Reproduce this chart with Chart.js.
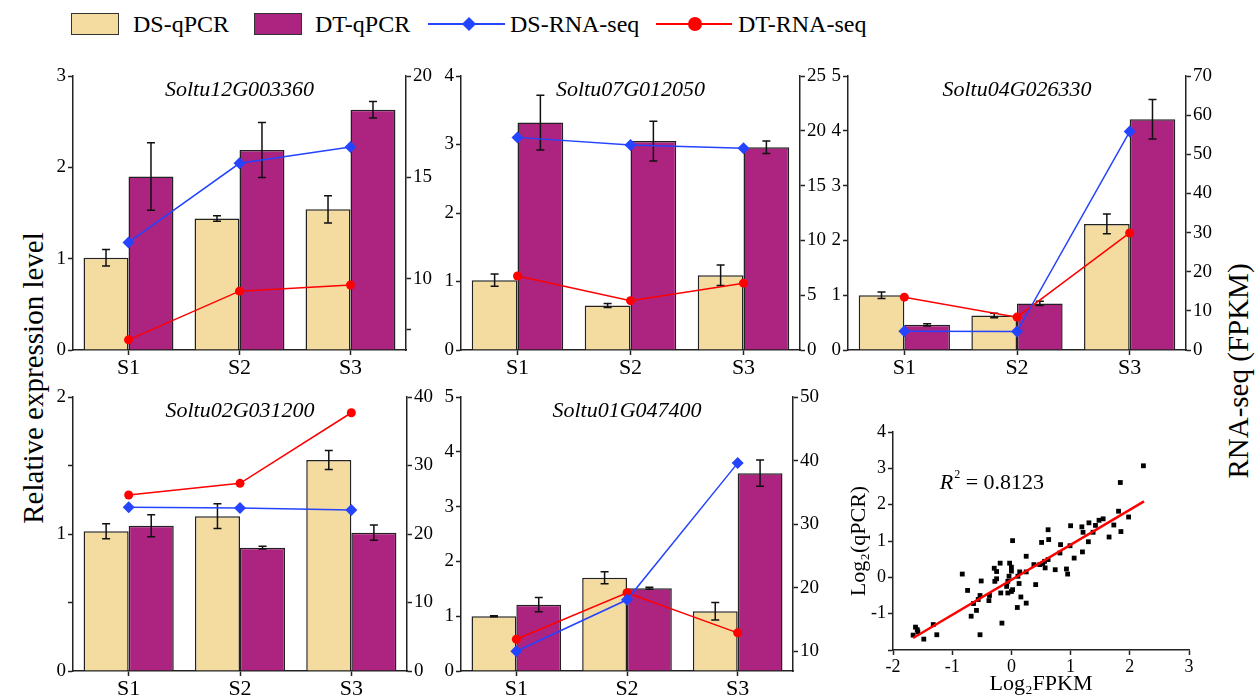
<!DOCTYPE html>
<html>
<head>
<meta charset="utf-8">
<script src="https://cdn.jsdelivr.net/npm/chart.js@4.4.1/dist/chart.umd.min.js"></script>
<style>
    body { margin: 0; width: 1260px; height: 697px; overflow: hidden; background: #fff; position: relative; font-family: "Liberation Serif", serif; color: #000; }
    canvas { position: absolute; }
    .abs { position: absolute; }
    .box { position: absolute; box-sizing: border-box; width: 48px; height: 22px; top: 13px; border: 1.5px solid #333; }
    .lgtext { position: absolute; top: 11px; font-size: 24px; line-height: 26px; white-space: nowrap; }
    .vtitle { position: absolute; font-size: 29px; white-space: nowrap; transform: translate(-50%, -50%) rotate(-90deg); }
</style>
</head>
<body>
<!-- legend -->
<div class="box" style="left:71px; background:#F4DBA0"></div>
<div class="lgtext" style="left:133px">DS-qPCR</div>
<div class="box" style="left:254px; background:#AC2380"></div>
<div class="lgtext" style="left:315px">DT-qPCR</div>
<div class="abs" style="left:428px; top:23px; width:77px; height:2px; background:#2444FF"></div>
<div class="abs" style="left:464px; top:19px; width:10px; height:10px; background:#2444FF; transform:rotate(45deg)"></div>
<div class="lgtext" style="left:510px">DS-RNA-seq</div>
<div class="abs" style="left:656px; top:23px; width:76px; height:2px; background:#FF0000"></div>
<div class="abs" style="left:688px; top:17px; width:14px; height:14px; border-radius:50%; background:#FF0000"></div>
<div class="lgtext" style="left:738px">DT-RNA-seq</div>

<div class="vtitle" style="left:33px; top:378px">Relative expression level</div>
<div class="vtitle" style="left:1238px; top:371px">RNA-seq (FPKM)</div>

<canvas id="p0"></canvas>
<canvas id="p1"></canvas>
<canvas id="p2"></canvas>
<canvas id="p3"></canvas>
<canvas id="p4"></canvas>
<canvas id="scatter"></canvas>

<script>
const stages = ["S1", "S2", "S3"];
const genes = ["Soltu12G003360", "Soltu07G012050", "Soltu04G026330", "Soltu02G031200", "Soltu01G047400"];

// relative expression (left axis), one row per gene
const dsQpcr    = [[1.01, 1.44, 1.54], [1.02, 0.65, 1.09], [1.00, 0.63, 2.30], [1.02, 1.13, 1.54], [1.00, 1.70, 1.09]];
const dsQpcrErr = [[0.09, 0.03, 0.15], [0.09, 0.03, 0.15], [0.06, 0.04, 0.18], [0.055, 0.09, 0.07], [0.01, 0.11, 0.16]];
const dtQpcr    = [[1.90, 2.19, 2.63], [3.32, 3.05, 2.96], [0.46, 0.85, 4.21], [1.06, 0.90, 1.01], [1.21, 1.51, 3.61]];
const dtQpcrErr = [[0.37, 0.30, 0.09], [0.40, 0.29, 0.09], [0.02, 0.04, 0.36], [0.08, 0.01, 0.055], [0.13, 0.02, 0.24]];

// FPKM (right axis)
const dsRna = [[11.8, 15.7, 16.5], [19.4, 18.7, 18.4], [4.8, 4.7, 55.8], [23.9, 23.8, 23.5], [10.0, 18.1, 39.6]];
const dtRna = [[7.0, 9.4, 9.7], [6.75, 4.5, 6.1], [13.5, 8.4, 29.9], [25.7, 27.4, 37.7], [11.9, 19.2, 12.9]];

// axis ranges and tick values
const leftMin   = [0, 0, 0, 0, 0];
const leftMax   = [3, 4, 5, 2, 5];
const leftMajor = [[0, 1, 2, 3], [0, 1, 2, 3, 4], [0, 1, 2, 3, 4, 5], [0, 1, 2], [0, 1, 2, 3, 4, 5]];
const leftMinor = [[], [], [], [0.5, 1.5], []];
const rightMin   = [6.5, 0, 0, 0, 6.9];
const rightMax   = [20, 25, 70, 40, 50];
const rightMajor = [[10, 15, 20], [0, 5, 10, 15, 20, 25], [0, 10, 20, 30, 40, 50, 60, 70], [0, 10, 20, 30, 40], [10, 20, 30, 40, 50]];
const rightMinor = [[7.5], [], [], [], []];

// log2 scatter
const scatterX = [2.23, 1.84, 1.81, 1.98, 1.85, 1.73, 1.65, 1.55, 1.48, 1.42,
    1.38, 1.31, 1.30, 1.21, 1.19, 1.20, 1.06, 1.00, 0.99, 0.83,
    0.82, 0.93, 0.95, 0.74, 0.62, 0.63, 0.51, 0.62, 0.56, 0.53,
    0.57, 0.48, 0.38, 0.41, 0.25, 0.25, 0.14, 0.11, 0.13, 0.16,
    0.25, 0.10, 0.02, 0.00, -0.03, 0.00, -0.04, -0.06, -0.08, 0.00,
    -0.06, 0.02, -0.16, -0.18, -0.19, -0.25, -0.29, -0.25, -0.28, -0.38,
    -0.37, -0.51, -0.53, -0.56, -0.53, -0.59, -0.64, -0.68, -0.74, -0.83,
    -1.26, -1.32, -1.48, -1.59, -1.62, -1.66, -1.58];
const scatterY = [3.07, 2.61, 1.82, 1.66, 1.26, 1.44, 1.11, 1.61, 1.57, 1.43,
    1.24, 1.50, 0.98, 1.24, 1.39, 0.70, 0.53, 1.42, 0.87, 0.90,
    0.67, 0.23, 0.09, 0.21, 1.31, 1.04, 0.96, 0.49, 0.44, 0.38,
    0.26, 0.35, 0.35, -0.20, 0.58, 0.15, 0.15, 0.03, -0.17, -0.54,
    -0.71, -0.83, 1.01, 0.28, 0.39, 0.17, 0.03, -0.11, -0.25, -0.39,
    -0.43, -0.34, -1.26, -0.43, 0.39, -0.04, 0.25, 0.16, -0.11, -0.64,
    -0.50, -0.10, -0.50, -0.61, -1.58, -0.91, -0.72, -1.07, -0.36, 0.09,
    -1.58, -1.30, -1.70, -1.44, -1.37, -1.59, -1.50];
const fitX = [-1.66, 2.24];
const fitY = [-1.67, 2.09];
const rSquared = "0.8123";

// plot areas on the page: left, top, right, bottom
const panelAreas = [[73, 76, 406, 350], [461, 76, 800, 350], [848, 76, 1186, 350], [73, 397, 407, 671], [461, 397, 793, 671]];
const scatterArea = [893, 432, 1189, 650];

const DS_BAR = "#F4DBA0", DT_BAR = "#AC2380", DS_LINE = "#2444FF", DT_LINE = "#FF0000";
const INK = "#222";

Chart.defaults.font.family = "'Liberation Serif', 'Times New Roman', serif";
Chart.defaults.color = "#000";

const errorBars = {
    id: "errorBars",
    afterDatasetDraw(chart, args) {
        const ds = chart.data.datasets[args.index];
        if (!ds.errors) return;
        const ctx = chart.ctx;
        const y = chart.scales.y;
        ctx.save();
        ctx.strokeStyle = "#111";
        ctx.lineWidth = 1.5;
        args.meta.data.forEach((bar, i) => {
            const top = y.getPixelForValue(ds.data[i] + ds.errors[i]);
            const bot = y.getPixelForValue(ds.data[i] - ds.errors[i]);
            ctx.beginPath();
            ctx.moveTo(bar.x, top); ctx.lineTo(bar.x, bot);
            ctx.moveTo(bar.x - 4, top); ctx.lineTo(bar.x + 4, top);
            ctx.moveTo(bar.x - 4, bot); ctx.lineTo(bar.x + 4, bot);
            ctx.stroke();
        });
        ctx.restore();
    }
};

const panelTitle = {
    id: "panelTitle",
    afterDraw(chart, args, opts) {
        if (!opts.text) return;
        const { ctx, chartArea } = chart;
        ctx.save();
        ctx.font = "italic 22px 'Liberation Serif'";
        ctx.fillStyle = "#000";
        ctx.textAlign = "center";
        ctx.textBaseline = "middle";
        ctx.fillText(opts.text, (chartArea.left + chartArea.right) / 2, chartArea.top + 14);
        ctx.restore();
    }
};

const r2Label = {
    id: "r2Label",
    afterDraw(chart, args, opts) {
        if (!opts.show) return;
        const ctx = chart.ctx;
        const x0 = chart.scales.x.getPixelForValue(-1.21);
        const y0 = chart.scales.y.getPixelForValue(2.6);
        ctx.save();
        ctx.fillStyle = "#000";
        ctx.textBaseline = "middle";
        ctx.font = "italic 22px 'Liberation Serif'";
        ctx.fillText("R", x0, y0);
        let x = x0 + ctx.measureText("R").width;
        ctx.font = "12px 'Liberation Serif'";
        ctx.fillText("2", x + 1, y0 - 8);
        x += ctx.measureText("2").width + 1;
        ctx.font = "22px 'Liberation Serif'";
        ctx.fillText(" = " + rSquared, x, y0);
        ctx.restore();
    }
};

Chart.register(errorBars, panelTitle, r2Label);

function valueAxis(position, min, max, major, minor, width) {
    return {
        position: position,
        min: min,
        max: max,
        afterBuildTicks: s => { s.ticks = major.concat(minor).sort((a, b) => a - b).map(v => ({ value: v })); },
        afterFit: s => { s.width = width; },
        ticks: {
            autoSkip: false,
            padding: 2,
            font: { size: 19 },
            callback: v => major.includes(v) ? String(v) : ""
        },
        grid: { drawOnChartArea: false, drawTicks: true, tickLength: 5, tickColor: INK, tickWidth: 1.5 },
        border: { color: INK, width: 1.5 }
    };
}

function makePanel(k) {
    const [l, t, r, b] = panelAreas[k];
    const padL = 45, padR = 45, padT = 20, padB = 40;
    const cv = document.getElementById("p" + k);
    cv.width = r - l + padL + padR;
    cv.height = b - t + padT + padB;
    cv.style.left = (l - padL) + "px";
    cv.style.top = (t - padT) + "px";

    new Chart(cv, {
        type: "bar",
        data: {
            labels: stages,
            datasets: [
                { type: "line", label: "DS-RNA-seq", data: dsRna[k], yAxisID: "y2", borderColor: DS_LINE, backgroundColor: DS_LINE,
                  borderWidth: 1.5, pointStyle: "rectRot", pointRadius: 6, pointBorderWidth: 0, order: 0 },
                { type: "line", label: "DT-RNA-seq", data: dtRna[k], yAxisID: "y2", borderColor: DT_LINE, backgroundColor: DT_LINE,
                  borderWidth: 1.5, pointStyle: "circle", pointRadius: 4.5, pointBorderWidth: 0, order: 0 },
                { label: "DS-qPCR", data: dsQpcr[k], errors: dsQpcrErr[k], yAxisID: "y", backgroundColor: DS_BAR,
                  borderColor: INK, borderWidth: 1.5, categoryPercentage: 0.81, barPercentage: 1, order: 1 },
                { label: "DT-qPCR", data: dtQpcr[k], errors: dtQpcrErr[k], yAxisID: "y", backgroundColor: DT_BAR,
                  borderColor: INK, borderWidth: 1.5, categoryPercentage: 0.81, barPercentage: 1, order: 1 }
            ]
        },
        options: {
            responsive: false,
            animation: false,
            events: [],
            layout: { padding: { top: padT, left: 0, right: 0, bottom: 0 } },
            plugins: { legend: { display: false }, tooltip: { enabled: false }, panelTitle: { text: genes[k] } },
            scales: {
                x: {
                    offset: true,
                    afterFit: s => { s.height = padB; },
                    ticks: { font: { size: 22 }, padding: 0 },
                    grid: { offset: false, drawOnChartArea: false, drawTicks: true, tickLength: 5, tickColor: INK, tickWidth: 1.5 },
                    border: { color: INK, width: 1.5 }
                },
                y: valueAxis("left", leftMin[k], leftMax[k], leftMajor[k], leftMinor[k], padL),
                y2: valueAxis("right", rightMin[k], rightMax[k], rightMajor[k], rightMinor[k], padR)
            }
        }
    });
}

for (let k = 0; k < genes.length; k++) makePanel(k);

// scatter of log2 values
(function () {
    const [l, t, r, b] = scatterArea;
    const padL = 47, padR = 15, padT = 15, padB = 47;
    const cv = document.getElementById("scatter");
    cv.width = r - l + padL + padR;
    cv.height = b - t + padT + padB;
    cv.style.left = (l - padL) + "px";
    cv.style.top = (t - padT) + "px";

    new Chart(cv, {
        type: "scatter",
        data: {
            datasets: [
                { data: fitX.map((x, i) => ({ x: x, y: fitY[i] })), showLine: true, borderColor: "#FF0000", borderWidth: 2.5,
                  pointRadius: 0, order: 0 },
                { data: scatterX.map((x, i) => ({ x: x, y: scatterY[i] })), pointStyle: "rect", pointRadius: 3.4,
                  backgroundColor: "#000", borderWidth: 0, order: 1 }
            ]
        },
        options: {
            responsive: false,
            animation: false,
            events: [],
            layout: { padding: { top: padT, right: padR, left: 0, bottom: 0 } },
            plugins: { legend: { display: false }, tooltip: { enabled: false }, r2Label: { show: true } },
            scales: {
                x: {
                    type: "linear", min: -2, max: 3,
                    afterFit: s => { s.height = padB; },
                    ticks: { stepSize: 1, font: { size: 18 }, padding: 1 },
                    title: { display: true, text: "Log₂FPKM", font: { size: 22 }, padding: 0 },
                    grid: { drawOnChartArea: false, drawTicks: true, tickLength: 5, tickColor: INK, tickWidth: 1.5 },
                    border: { color: INK, width: 1.5 }
                },
                y: {
                    type: "linear", min: -2, max: 4,
                    afterFit: s => { s.width = padL; },
                    ticks: { stepSize: 1, font: { size: 18 }, padding: 2, callback: v => v === -2 ? "" : String(v) },
                    title: { display: true, text: "Log₂(qPCR)", font: { size: 22 }, padding: 0 },
                    grid: { drawOnChartArea: false, drawTicks: true, tickLength: 5, tickColor: INK, tickWidth: 1.5 },
                    border: { color: INK, width: 1.5 }
                }
            }
        }
    });
})();
</script>
</body>
</html>
